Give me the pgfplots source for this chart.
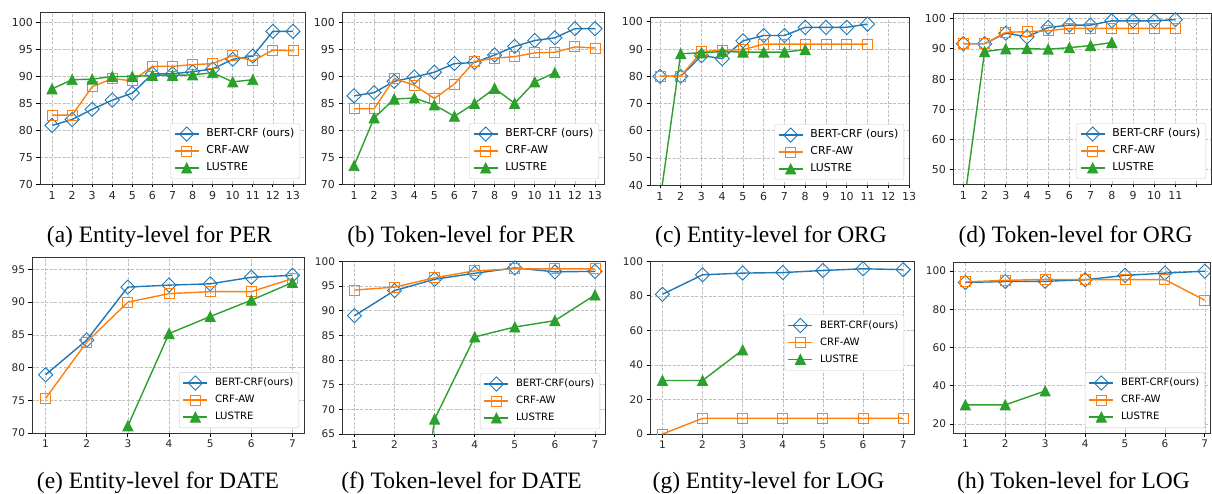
\documentclass[border=0pt]{standalone}
\usepackage{fontspec}
\setmainfont{Liberation Serif}
\newfontfamily\djv{DejaVu Sans}
\usepackage{pgfplots}
\pgfplotsset{compat=1.18}
\definecolor{cBlue}{HTML}{1F77B4}
\definecolor{cOrange}{HTML}{FF7F0E}
\definecolor{cGreen}{HTML}{2CA02C}
\pgfdeclareplotmark{mpltri}{%
  \pgfpathmoveto{\pgfqpoint{0pt}{\pgfplotmarksize}}%
  \pgfpathlineto{\pgfqpoint{\pgfplotmarksize}{-\pgfplotmarksize}}%
  \pgfpathlineto{\pgfqpoint{-\pgfplotmarksize}{-\pgfplotmarksize}}%
  \pgfpathclose
  \pgfusepathqfillstroke
}
\pgfdeclareplotmark{mpldiamond}{%
  \pgfpathmoveto{\pgfqpoint{0pt}{1.4142\pgfplotmarksize}}%
  \pgfpathlineto{\pgfqpoint{1.4142\pgfplotmarksize}{0pt}}%
  \pgfpathlineto{\pgfqpoint{0pt}{-1.4142\pgfplotmarksize}}%
  \pgfpathlineto{\pgfqpoint{-1.4142\pgfplotmarksize}{0pt}}%
  \pgfpathclose
  \pgfusepathqstroke
}
\pgfplotsset{
  bertstyle/.style={color=cBlue, line width=1.4pt, mark=mpldiamond, mark size=5pt, mark options={line width=0.9pt, solid}},
  crfstyle/.style={color=cOrange, line width=1.4pt, mark=square, mark size=5pt, mark options={line width=0.9pt, solid}},
  lustrestyle/.style={color=cGreen, line width=1.4pt, mark=mpltri, mark size=5pt, mark options={line width=0.9pt, fill=cGreen, solid}},
  myaxis/.style={
    scale only axis, anchor=south west,
    axis line style={black!80, line width=0.8pt},
    grid=major, grid style={dash pattern=on 3pt off 1.5pt, black!25, line width=0.6pt},
    tick align=outside, tick pos=left, major tick length=3.5pt,
    tick style={black, line width=0.8pt},
    ticklabel style={font=\djv\fontsize{11}{13}\selectfont, color=black!85},
    /pgf/number format/assume math mode=true,
    clip marker paths=true,
    legend cell align=left,
    legend style={at={(1,0)}, anchor=south east, xshift=-5pt, yshift=5pt,
      draw=black!20, rounded corners=2pt, fill=white, inner sep=3.5pt,
      font=\djv\fontsize{10.9}{12}\selectfont, row sep=2.5pt,
      nodes={inner sep=2pt, text height=8pt, text depth=2.5pt},
      /tikz/every odd column/.append style={column sep=5pt}},
    legend image code/.code={\draw[mark repeat=2,mark phase=2,##1] plot coordinates {(0pt,0pt) (12pt,0pt) (24pt,0pt)};},
  },
  botrow/.style={
    ticklabel style={font=\djv\fontsize{10.5}{12}\selectfont},
    legend style={font=\djv\fontsize{10.1}{12}\selectfont},
  },
}
\begin{document}
\begin{tikzpicture}[x=1pt,y=1pt]
\useasboundingbox (0pt,0pt) rectangle (1212pt,493pt);
% (a)
\begin{axis}[myaxis, at={(40pt,309pt)}, width=265pt, height=172pt,
  xmin=0.4, xmax=13.6, ymin=70, ymax=102,
  xtick={1,...,13}, ytick={70,75,...,100}]
\addplot[bertstyle] coordinates {(1,80.9)(2,82.0)(3,83.9)(4,85.6)(5,86.9)(6,90.5)(7,90.5)(8,90.9)(9,91.4)(10,93.2)(11,93.8)(12,98.4)(13,98.4)};
\addplot[crfstyle] coordinates {(1,82.8)(2,82.8)(3,88.1)(4,89.6)(5,89.2)(6,91.9)(7,91.9)(8,92.2)(9,92.4)(10,93.9)(11,92.9)(12,94.9)(13,94.8)};
\addplot[lustrestyle] coordinates {(1,87.7)(2,89.4)(3,89.5)(4,90.0)(5,90.0)(6,90.2)(7,90.2)(8,90.3)(9,90.7)(10,89.0)(11,89.4)};
\legend{BERT-CRF (ours),CRF-AW,LUSTRE}
\end{axis}
% (b)
\begin{axis}[myaxis, at={(342pt,309pt)}, width=262pt, height=172pt,
  xmin=0.4, xmax=13.45, ymin=70, ymax=102,
  xtick={1,...,13}, ytick={70,75,...,100}]
\addplot[bertstyle] coordinates {(1,86.4)(2,87.0)(3,89.1)(4,89.9)(5,90.8)(6,92.4)(7,92.6)(8,94.0)(9,95.6)(10,96.7)(11,97.2)(12,98.9)(13,98.9)};
\addplot[crfstyle] coordinates {(1,84.0)(2,84.0)(3,89.6)(4,88.4)(5,85.9)(6,88.6)(7,92.8)(8,93.4)(9,93.7)(10,94.4)(11,94.5)(12,95.5)(13,95.3)};
\addplot[lustrestyle] coordinates {(1,73.4)(2,82.3)(3,85.8)(4,86.0)(5,84.7)(6,82.6)(7,85.0)(8,87.8)(9,85.0)(10,89.0)(11,90.7)};
\legend{BERT-CRF (ours),CRF-AW,LUSTRE}
\end{axis}
% (c)
\begin{axis}[myaxis, at={(650pt,308pt)}, width=259pt, height=168pt,
  xmin=0.52, xmax=13, ymin=40, ymax=101.8,
  xtick={1,...,13}, ytick={40,50,...,100}]
\addplot[bertstyle] coordinates {(1,80)(2,80)(3,87.6)(4,86.5)(5,93.0)(6,95.0)(7,95.0)(8,98.0)(9,98.0)(10,98.0)(11,99.2)};
\addplot[crfstyle] coordinates {(1,80)(2,80)(3,89.0)(4,89.6)(5,89.8)(6,91.8)(7,91.8)(8,91.8)(9,91.8)(10,91.8)(11,91.8)};
\addplot[lustrestyle] coordinates {(1,34)(2,88.3)(3,88.6)(4,89.1)(5,88.9)(6,88.9)(7,88.9)(8,89.8)};
\legend{BERT-CRF (ours),CRF-AW,LUSTRE}
\end{axis}
% (d)
\begin{axis}[myaxis, at={(953pt,309pt)}, width=258pt, height=171pt,
  xmin=0.51, xmax=12.68, ymin=45.2, ymax=101.9,
  xtick={1,...,12}, xticklabels={1,2,3,4,5,6,7,8,9,10,11,{}}, ytick={50,60,...,100}]
\addplot[bertstyle] coordinates {(1,91.7)(2,91.7)(3,95.2)(4,94.0)(5,97.1)(6,97.9)(7,97.9)(8,99.3)(9,99.3)(10,99.3)(11,99.7)};
\addplot[crfstyle] coordinates {(1,91.7)(2,91.7)(3,95.5)(4,95.7)(5,96.0)(6,96.8)(7,96.8)(8,96.8)(9,96.8)(10,96.8)(11,96.8)};
\addplot[lustrestyle] coordinates {(1,37)(2,89.1)(3,90.0)(4,90.1)(5,89.9)(6,90.4)(7,91.1)(8,92.1)};
\legend{BERT-CRF (ours),CRF-AW,LUSTRE}
\end{axis}
% (e)
\begin{axis}[myaxis, botrow, at={(32pt,60pt)}, width=272pt, height=176pt,
  xmin=0.67, xmax=7.28, ymin=70, ymax=96.9,
  xtick={1,...,7}, ytick={70,75,...,95}]
\addplot[bertstyle] coordinates {(1,78.9)(2,84.2)(3,92.3)(4,92.6)(5,92.8)(6,93.8)(7,94.1)};
\addplot[crfstyle] coordinates {(1,75.3)(2,83.9)(3,90.0)(4,91.3)(5,91.6)(6,91.6)(7,93.6)};
\addplot[lustrestyle] coordinates {(3,71.1)(4,85.2)(5,87.8)(6,90.3)(7,93.0)};
\legend{BERT-CRF(ours),CRF-AW,LUSTRE}
\end{axis}
% (f)
\begin{axis}[myaxis, botrow, at={(342pt,59pt)}, width=263pt, height=173pt,
  xmin=0.69, xmax=7.25, ymin=65, ymax=100.1,
  xtick={1,...,7}, ytick={65,70,...,100}]
\addplot[bertstyle] coordinates {(1,89.0)(2,94.1)(3,96.4)(4,97.6)(5,98.7)(6,97.9)(7,98.0)};
\addplot[crfstyle] coordinates {(1,94.2)(2,94.8)(3,96.7)(4,98.1)(5,98.5)(6,98.5)(7,98.5)};
\addplot[lustrestyle] coordinates {(2,10)(3,68.0)(4,84.7)(5,86.7)(6,88.0)(7,93.2)};
\legend{BERT-CRF(ours),CRF-AW,LUSTRE}
\end{axis}
% (g)
\begin{axis}[myaxis, botrow, at={(650pt,59pt)}, width=264pt, height=173pt,
  xmin=0.69, xmax=7.27, ymin=0, ymax=100.2,
  xtick={1,...,7}, ytick={0,20,...,100},
  legend style={at={(1,0.5)}, anchor=east, xshift=-5pt, yshift=0pt}]
\addplot[bertstyle] coordinates {(1,80.9)(2,92.2)(3,93.2)(4,93.5)(5,94.7)(6,95.7)(7,95.2)};
\addplot[crfstyle] coordinates {(1,0)(2,9.1)(3,9.1)(4,9.1)(5,9.1)(6,9.1)(7,9.1)};
\addplot[lustrestyle] coordinates {(1,31)(2,31)(3,48.7)};
\legend{BERT-CRF(ours),CRF-AW,LUSTRE}
\end{axis}
% (h)
\begin{axis}[myaxis, botrow, at={(953pt,60pt)}, width=257pt, height=171pt,
  xmin=0.69, xmax=7.13, ymin=15.3, ymax=104.7,
  xtick={1,...,7}, ytick={20,40,...,100}]
\addplot[bertstyle] coordinates {(1,94.0)(2,94.5)(3,94.6)(4,95.4)(5,97.7)(6,98.9)(7,99.9)};
\addplot[crfstyle] coordinates {(1,94.3)(2,95.1)(3,95.6)(4,95.5)(5,95.5)(6,95.5)(7,84.7)};
\addplot[lustrestyle] coordinates {(1,30)(2,30)(3,37.3)};
\legend{BERT-CRF(ours),CRF-AW,LUSTRE}
\end{axis}
% captions
\begin{scope}[every node/.style={font=\fontsize{23.5}{26}\selectfont, anchor=base, inner sep=0pt}]
\node at (159.5pt,250pt) {(a) Entity-level for PER};
\node at (461pt,250pt) {(b) Token-level for PER};
\node at (771pt,250pt) {(c) Entity-level for ORG};
\node at (1075.5pt,250pt) {(d) Token-level for ORG};
\node at (158pt,5pt) {(e) Entity-level for DATE};
\node at (461.5pt,5pt) {(f) Token-level for DATE};
\node at (768.5pt,5pt) {(g) Entity-level for LOG};
\node at (1073.5pt,5pt) {(h) Token-level for LOG};
\end{scope}
\end{tikzpicture}
\end{document}
